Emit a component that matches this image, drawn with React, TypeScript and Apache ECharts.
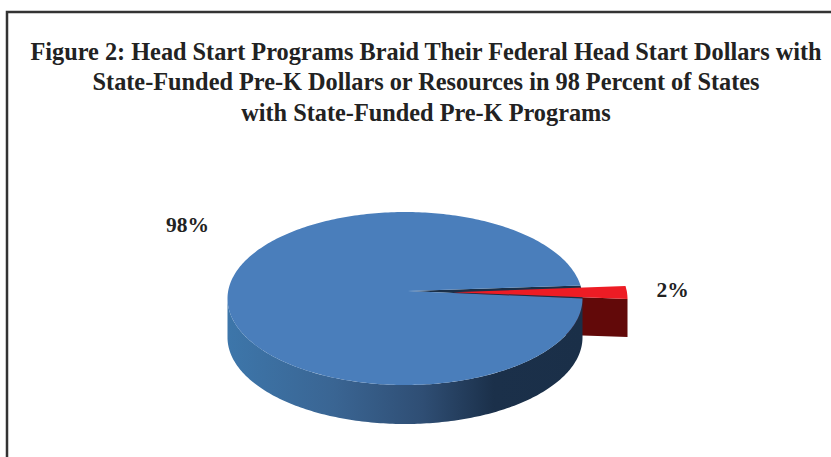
import React, { useEffect, useRef } from "react";
import * as echarts from "echarts";

const titleLines = [
  "Figure 2: Head Start Programs Braid Their Federal Head Start Dollars with",
  "State-Funded Pre-K Dollars or Resources in 98 Percent of States",
  "with State-Funded Pre-K Programs",
];
const sliceNames = ["Braid", "Do not braid"];
const sliceValues = [98, 2];
const topColors = ["#4a7ebb", "#ed1c24"];

const CX = 405, CY = 298.5, RX = 177.5, RY = 86.5, DEPTH = 39;
const APEX_X = 408, APEX_Y = 291;
const START_DEG = 0;
const EXPLODE_X = 45, EXPLODE_Y = 0.5, TIP_DY = 1.2;
// The reference's 3D perspective widens the wedge that faces the viewer on screen.
const NEAR_WEDGE_STRETCH = 1.2;
const rim = (deg: number, dx = 0, dy = 0): [number, number] => {
  const a = (deg * Math.PI) / 180;
  return [CX + RX * Math.cos(a) + dx, CY + RY * Math.sin(a) + dy];
};
const arc = (from: number, to: number, dx = 0, dy = 0) => {
  const n = Math.max(2, Math.ceil(Math.abs(to - from)));
  const pts: [number, number][] = [];
  for (let i = 0; i <= n; i++) pts.push(rim(from + ((to - from) * i) / n, dx, dy));
  return pts;
};

export default function App() {
  const ref = useRef<HTMLDivElement>(null);
  useEffect(() => {
    const chart = echarts.init(ref.current!, null, { renderer: "svg" });
    const total = sliceValues.reduce((a, b) => a + b, 0);
    const wedgeSweep = (sliceValues[1] / total) * 360 * NEAR_WEDGE_STRETCH;
    const mainEnd = START_DEG + 360 - wedgeSweep;
    chart.setOption({
      animation: false,
      backgroundColor: "#ffffff",
      title: {
        text: titleLines.join("\n"),
        left: 421,
        top: 31,
        textAlign: "center",
        textStyle: {
          fontFamily: "Liberation Serif",
          fontWeight: "bold",
          fontSize: 24.3,
          lineHeight: 30.5,
          color: "#222222",
        },
      },
      graphic: [
        {
          type: "rect",
          shape: { x: 7, y: 12, width: 900, height: 600 },
          style: { fill: "none", stroke: "#333333", lineWidth: 2.5 },
        },
      ],
      series: [
        {
          type: "custom",
          coordinateSystem: "none",
          data: sliceValues.map((value, i) => ({ name: sliceNames[i], value })),
          renderItem: (params: any, api: any) => {
            const i = params.dataIndex;
            const text = `${api.value(0)}%`;
            if (i === 0) {
              const side = [...arc(START_DEG, 180), ...arc(180, START_DEG, 0, DEPTH)];
              return {
                type: "group",
                children: [
                  {
                    type: "polygon",
                    z2: 2,
                    shape: { points: [[APEX_X, APEX_Y], ...arc(mainEnd, START_DEG + 360)] },
                    style: { fill: "#1a2f48" },
                  },
                  {
                    type: "polygon",
                    z2: 3,
                    shape: { points: side },
                    style: {
                      fill: new echarts.graphic.LinearGradient(0, 0, 1, 0, [
                        { offset: 0, color: "#3d76aa" },
                        { offset: 0.3, color: "#3a6593" },
                        { offset: 0.55, color: "#2f4e74" },
                        { offset: 0.75, color: "#1b304a" },
                        { offset: 1, color: "#1a2f48" },
                      ]),
                    },
                  },
                  {
                    type: "polygon",
                    z2: 4,
                    shape: { points: [[APEX_X, APEX_Y], ...arc(START_DEG, mainEnd)] },
                    style: { fill: topColors[0] },
                  },
                  {
                    type: "text",
                    z2: 6,
                    style: {
                      text,
                      x: 187.5,
                      y: 225,
                      align: "center",
                      verticalAlign: "middle",
                      fontFamily: "Liberation Serif",
                      fontWeight: "bold",
                      fontSize: 21.5,
                      fill: "#222222",
                    },
                  },
                ],
              };
            }
            const tip: [number, number] = [APEX_X + EXPLODE_X, APEX_Y + TIP_DY];
            const lower = rim(START_DEG, EXPLODE_X, EXPLODE_Y);
            return {
              type: "group",
              children: [
                {
                  type: "polygon",
                  z2: 1,
                  shape: {
                    points: [tip, lower, [lower[0], lower[1] + DEPTH - 1], [tip[0], tip[1] + DEPTH]],
                  },
                  style: { fill: "#620909" },
                },
                {
                  type: "polygon",
                  z2: 5,
                  shape: { points: [tip, ...arc(mainEnd, START_DEG + 360, EXPLODE_X, EXPLODE_Y)] },
                  style: { fill: topColors[1] },
                },
                {
                  type: "text",
                  z2: 6,
                  style: {
                    text,
                    x: 672.5,
                    y: 290,
                    align: "center",
                    verticalAlign: "middle",
                    fontFamily: "Liberation Serif",
                    fontWeight: "bold",
                    fontSize: 21.5,
                    fill: "#222222",
                  },
                },
              ],
            };
          },
        },
      ],
    });
    return () => chart.dispose();
  }, []);
  return (
    <div
      ref={ref}
      style={{ position: "absolute", left: 0, top: 0, width: 831, height: 457 }}
    />
  );
}
